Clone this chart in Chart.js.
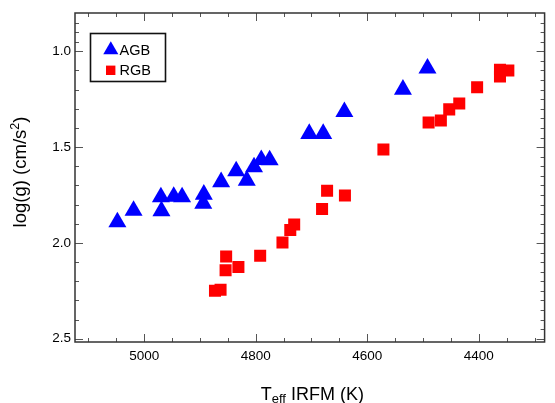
<!DOCTYPE html>
<html>
<head>
<meta charset="utf-8">
<script src="https://cdn.jsdelivr.net/npm/chart.js@4/dist/chart.umd.min.js"></script>
<style>
html,body{margin:0;padding:0;background:#fff;}
#wrap{width:555px;height:403px;}
</style>
</head>
<body>
<div id="wrap"><canvas id="c" width="555" height="403"></canvas></div>
<script>
// ---- data ----
const seriesNames = ['AGB', 'RGB'];
const agbTeff = [5048, 5019, 4969, 4970, 4947, 4932, 4894, 4893, 4862, 4835, 4816, 4803, 4790, 4775, 4704, 4679, 4641, 4536, 4492];
const agbLogg = [1.891, 1.831, 1.833, 1.761, 1.758, 1.761, 1.794, 1.747, 1.682, 1.625, 1.674, 1.604, 1.566, 1.568, 1.430, 1.430, 1.316, 1.199, 1.089];
const rgbTeff = [4873, 4863, 4854, 4853, 4831, 4792, 4752, 4738, 4731, 4681, 4672, 4640, 4571, 4490, 4468, 4453, 4435, 4403, 4362, 4347, 4362];
const rgbLogg = [2.249, 2.244, 2.142, 2.071, 2.125, 2.067, 1.998, 1.932, 1.904, 1.823, 1.728, 1.753, 1.512, 1.372, 1.361, 1.303, 1.272, 1.188, 1.096, 1.100, 1.131];
const xTickValues = [5000, 4800, 4600, 4400];
const yTickValues = [1.0, 1.5, 2.0, 2.5];
const xTitleParts = ['T', 'eff', ' IRFM (K)'];
const yTitleParts = ['log(g) (cm/s', '2', ')'];

const FONT = "'Liberation Sans', Arial, Helvetica, sans-serif";
const AGB_COLOR = '#0000ff';
const RGB_COLOR = '#ff0000';

function line(ctx, x1, y1, x2, y2) {
  ctx.beginPath(); ctx.moveTo(x1, y1); ctx.lineTo(x2, y2); ctx.stroke();
}

const framePlugin = {
  id: 'frame',
  beforeDatasetsDraw(chart) {
    const ctx = chart.ctx;
    const {left, right, top, bottom} = chart.chartArea;
    const xs = chart.scales.x, ys = chart.scales.y;
    ctx.save();
    ctx.strokeStyle = '#555';
    ctx.lineWidth = 1;
    // x ticks (minor every 50 K, major on labelled values)
    for (let v = 4300; v <= 5100; v += 50) {
      const px = Math.round(xs.getPixelForValue(v)) + 0.5;
      const len = xTickValues.includes(v) ? 8 : 4;
      line(ctx, px, bottom, px, bottom - len);
      line(ctx, px, top, px, top + len);
    }
    // y ticks
    for (let k = 17; k <= 50; k++) {
      const v = k * 0.05;
      const py = Math.round(ys.getPixelForValue(v)) + 0.5;
      const major = k % 10 === 0;
      const len = major ? 8 : 4;
      if (v < 1 || k % 2 === 0) line(ctx, left, py, left + len, py);
      line(ctx, right, py, right - len, py);
    }
    // frame
    ctx.strokeStyle = '#333';
    ctx.lineWidth = 1.5;
    ctx.strokeRect(left, top, right - left, bottom - top);
    ctx.restore();
  },
  afterDraw(chart) {
    const ctx = chart.ctx;
    const {left, right, top, bottom} = chart.chartArea;
    ctx.save();
    ctx.fillStyle = '#000';
    // x title with subscript
    ctx.textBaseline = 'alphabetic';
    ctx.textAlign = 'left';
    const f1 = '18px ' + FONT, f2 = '13px ' + FONT;
    ctx.font = f1; const w1 = ctx.measureText(xTitleParts[0]).width;
    ctx.font = f2; const w2 = ctx.measureText(xTitleParts[1]).width;
    ctx.font = f1; const w3 = ctx.measureText(xTitleParts[2]).width;
    let x0 = (left + right) / 2 + 2.5 - (w1 + w2 + w3) / 2;
    const base = 400;
    ctx.font = f1; ctx.fillText(xTitleParts[0], x0, base);
    ctx.font = f2; ctx.fillText(xTitleParts[1], x0 + w1, base + 2.5);
    ctx.font = f1; ctx.fillText(xTitleParts[2], x0 + w1 + w2, base);

    // y title rotated with superscript
    const g1 = '18.5px ' + FONT, g2 = '12.5px ' + FONT;
    ctx.font = g1; const v1 = ctx.measureText(yTitleParts[0]).width;
    ctx.font = g2; const v2 = ctx.measureText(yTitleParts[1]).width;
    ctx.font = g1; const v3 = ctx.measureText(yTitleParts[2]).width;
    const total = v1 + v2 + v3;
    ctx.translate(26, 172);
    ctx.rotate(-Math.PI / 2);
    let s = -total / 2;
    ctx.font = g1; ctx.fillText(yTitleParts[0], s, 0);
    ctx.font = g2; ctx.fillText(yTitleParts[1], s + v1, -7);
    ctx.font = g1; ctx.fillText(yTitleParts[2], s + v1 + v2, 0);
    ctx.restore();

    // legend box
    ctx.save();
    ctx.strokeStyle = '#111';
    ctx.lineWidth = 1.6;
    ctx.strokeRect(90.5, 33.5, 75, 48);
    // triangle marker
    const tx = 110.8, ty = 50, tr = 8.7;
    ctx.fillStyle = AGB_COLOR;
    ctx.beginPath();
    ctx.moveTo(tx, ty - tr);
    ctx.lineTo(tx + tr * Math.sin(2 * Math.PI / 3), ty + tr * 0.5);
    ctx.lineTo(tx - tr * Math.sin(2 * Math.PI / 3), ty + tr * 0.5);
    ctx.closePath();
    ctx.fill();
    // square marker
    ctx.fillStyle = RGB_COLOR;
    ctx.fillRect(106, 65.6, 9.4, 9.4);
    ctx.fillStyle = '#000';
    ctx.font = '14.5px ' + FONT;
    ctx.textBaseline = 'middle';
    ctx.textAlign = 'left';
    ctx.fillText(seriesNames[0], 119.5, 50.5);
    ctx.fillText(seriesNames[1], 119.5, 71);
    ctx.restore();
  }
};

new Chart(document.getElementById('c').getContext('2d'), {
  type: 'scatter',
  data: {
    datasets: [
      {
        label: seriesNames[0],
        data: agbTeff.map((t, i) => ({x: t, y: agbLogg[i]})),
        pointStyle: 'triangle',
        pointRadius: 10.4,
        pointHoverRadius: 10.4,
        pointBackgroundColor: AGB_COLOR,
        backgroundColor: AGB_COLOR,
        pointBorderWidth: 0,
        borderWidth: 0
      },
      {
        label: seriesNames[1],
        data: rgbTeff.map((t, i) => ({x: t, y: rgbLogg[i]})),
        pointStyle: 'rect',
        pointRadius: 8.5,
        pointHoverRadius: 8.5,
        pointBackgroundColor: RGB_COLOR,
        backgroundColor: RGB_COLOR,
        pointBorderWidth: 0,
        borderWidth: 0
      }
    ]
  },
  options: {
    responsive: false,
    animation: false,
    devicePixelRatio: 1,
    events: [],
    layout: {padding: {top: 13, right: 5, left: 0, bottom: 0}},
    plugins: {legend: {display: false}, tooltip: {enabled: false}},
    scales: {
      x: {
        type: 'linear',
        reverse: true,
        min: 4282,
        max: 5124,
        grid: {display: false, drawTicks: false},
        border: {display: false},
        afterBuildTicks: s => { s.ticks = xTickValues.map(v => ({value: v})); },
        afterFit: s => { s.height = 61; },
        ticks: {
          font: {family: FONT, size: 13.5},
          color: '#000',
          padding: 6,
          maxRotation: 0,
          autoSkip: false,
          callback: v => String(v)
        }
      },
      y: {
        type: 'linear',
        reverse: true,
        min: 0.8,
        max: 2.517,
        grid: {display: false, drawTicks: false},
        border: {display: false},
        afterBuildTicks: s => { s.ticks = yTickValues.map(v => ({value: v})); },
        afterFit: s => { s.width = 75; },
        ticks: {
          font: {family: FONT, size: 13.5},
          color: '#000',
          padding: 4,
          autoSkip: false,
          callback: v => Number(v).toFixed(1)
        }
      }
    }
  },
  plugins: [framePlugin]
});
</script>
</body>
</html>
